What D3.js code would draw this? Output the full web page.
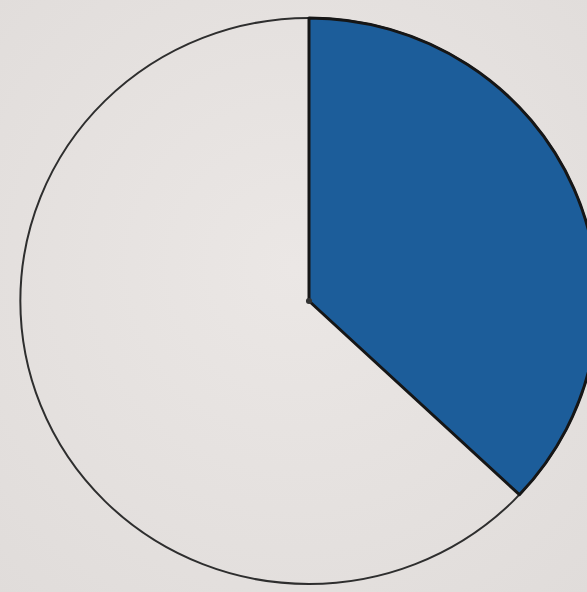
<!DOCTYPE html>
<meta charset="utf-8">
<style>
body { margin: 0; background: #e9e5e3; }
svg { display: block; }
.outline { fill: none; stroke: #2e2e2e; stroke-width: 2; }
.slice { stroke-linejoin: round; }
</style>
<svg width="587" height="592"></svg>
<script src="https://d3js.org/d3.v7.min.js"></script>
<script>

// Two parts of the whole: shaded vs unshaded (percent)
var categories = ["shaded", "unshaded"];
var values = [37, 63];
var colors = ["#1c5d9a", "none"];

var svg = d3.select("svg"),
    cx = 309, cy = 301,
    r = 283,
    sx = 1.02; // photo is a little stretched sideways

var bg = svg.append("defs").append("radialGradient")
    .attr("id", "paper")
    .attr("cx", "50%").attr("cy", "45%").attr("r", "75%");
bg.append("stop").attr("offset", "0%").attr("stop-color", "#ebe7e5");
bg.append("stop").attr("offset", "100%").attr("stop-color", "#e0dcda");

svg.append("rect")
    .attr("width", 587)
    .attr("height", 592)
    .attr("fill", "url(#paper)");

var g = svg.append("g")
    .attr("transform", "translate(" + cx + "," + cy + ") scale(" + sx + ",1)");

var pie = d3.pie().sort(null);
var arc = d3.arc().innerRadius(0).outerRadius(r);
var arcs = pie(values);

// outer circle
g.append("circle")
    .attr("class", "outline")
    .attr("r", r)
    .attr("vector-effect", "non-scaling-stroke");

g.selectAll("path.slice")
    .data(arcs)
    .enter()
    .append("path")
        .attr("class", "slice")
        .attr("d", arc)
        .attr("fill", function(d, i) { return colors[i]; })
        .attr("stroke", function(d, i) { return i == 0 ? "#161616" : "none"; })
        .attr("stroke-width", 3)
        .attr("vector-effect", "non-scaling-stroke");

// centre dot
g.append("circle")
    .attr("r", 3)
    .attr("fill", "#333");

</script>
